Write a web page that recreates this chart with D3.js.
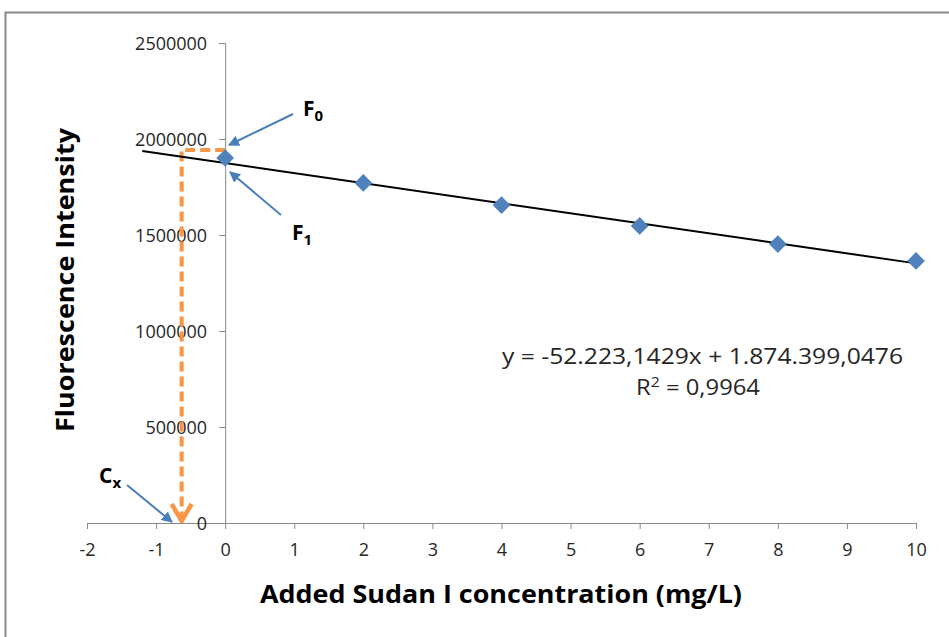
<!DOCTYPE html>
<html>
<head>
<meta charset="utf-8">
<script src="https://cdn.jsdelivr.net/npm/d3@7"></script>
<style>
body { margin: 0; background: #fff; }
text { font-family: "Open Sans", Lato, sans-serif; }
</style>
</head>
<body>
<div id="chart"></div>
<script>
var width = 949, height = 637;

// data
var concentrations = [0, 2, 4, 6, 8, 10];
var intensities = [1901000, 1771000, 1656000, 1547000, 1453000, 1365000];
var slope = -52223.1429, intercept = 1874399.0476;
var trendFrom = -1.2, trendTo = 10;
var xTicks = [-2, -1, 0, 1, 2, 3, 4, 5, 6, 7, 8, 9, 10];
var yTicks = [0, 500000, 1000000, 1500000, 2000000, 2500000];
var cx = -0.63, f0 = 1943000;

var svg = d3.select("#chart").append("svg")
	.attr("width", width).attr("height", height);

// outer frame
svg.append("rect")
	.attr("x", 5.5).attr("y", 12.5).attr("width", 960).attr("height", 660)
	.attr("fill", "none").attr("stroke", "#888").attr("stroke-width", 2);

var x = d3.scaleLinear().domain([-2, 10]).range([87, 916]);
var y = d3.scaleLinear().domain([0, 2500000]).range([523, 43]);

var defs = svg.append("defs");
defs.append("marker").attr("id", "blueHead")
	.attr("viewBox", "0 0 10 10").attr("refX", 9).attr("refY", 5)
	.attr("markerWidth", 5.5).attr("markerHeight", 5.5).attr("orient", "auto")
	.attr("markerUnits", "strokeWidth")
	.append("path").attr("d", "M0,0 L10,5 L0,10 z").attr("fill", "#4A7EBB");

// axes (plain hyphen for negatives, like the original)
var xAxis = svg.append("g").attr("transform", "translate(0," + y(0) + ")")
	.call(d3.axisBottom(x).tickValues(xTicks).tickSizeOuter(0).tickSize(6).tickPadding(14)
		.tickFormat(function(d){ return String(d); }));
var yAxis = svg.append("g").attr("transform", "translate(" + x(0) + ",0)")
	.call(d3.axisLeft(y).tickValues(yTicks).tickSizeOuter(0).tickSize(6).tickPadding(12)
		.tickFormat(function(d){ return String(d); }));

[xAxis, yAxis].forEach(function(a){
	a.select(".domain").attr("stroke", "#888");
	a.selectAll(".tick line").attr("stroke", "#888");
	a.selectAll(".tick text").attr("fill", "#262626").style("font-size", "18px");
});
yAxis.selectAll(".tick text").attr("dy", "0.36em");

// orange dashed guide
svg.append("path")
	.attr("d", "M" + x(0) + "," + y(f0) + " H" + x(cx) + " V" + (y(0) - 6))
	.attr("fill", "none").attr("stroke", "#F79646").attr("stroke-width", 4)
	.attr("stroke-dasharray", "10,5");
svg.append("path")
	.attr("d", "M" + (x(cx) - 10) + "," + (y(0) - 19) + " L" + x(cx) + "," + (y(0) - 2) + " L" + (x(cx) + 10) + "," + (y(0) - 19))
	.attr("fill", "none").attr("stroke", "#F79646").attr("stroke-width", 4.5)
	.attr("stroke-linejoin", "round");

// trend line
svg.append("line")
	.attr("x1", x(trendFrom)).attr("y1", y(slope * trendFrom + intercept))
	.attr("x2", x(trendTo)).attr("y2", y(slope * trendTo + intercept))
	.attr("stroke", "#000").attr("stroke-width", 2);

// points
svg.selectAll(".pt").data(concentrations).enter().append("path")
	.attr("class", "pt")
	.attr("d", d3.symbol().type(d3.symbolDiamond2).size(200))
	.attr("transform", function(d, i){ return "translate(" + x(d) + "," + y(intensities[i]) + ")"; })
	.attr("fill", "#4F81BD");

// blue annotation arrows
function arrow(x1, y1, x2, y2){
	svg.append("line")
		.attr("x1", x1).attr("y1", y1).attr("x2", x2).attr("y2", y2)
		.attr("stroke", "#4A7EBB").attr("stroke-width", 2)
		.attr("marker-end", "url(#blueHead)");
}
arrow(293, 114, 229, 145);
arrow(281, 215, 230, 172);
arrow(127, 485, 172, 522);

function label(px, py, main, sub){
	var t = svg.append("text").attr("x", px).attr("y", py)
		.style("font-size", "21px").style("font-weight", "bold").attr("fill", "#000");
	t.append("tspan").text(main);
	t.append("tspan").attr("dy", 5).style("font-size", "15px").text(sub);
}
label(303, 116, "F", "0");
label(292, 240, "F", "1");
label(99, 483, "C", "x");

// equation
svg.append("text").attr("x", 502).attr("y", 364)
	.attr("textLength", 401).attr("lengthAdjust", "spacingAndGlyphs")
	.style("font-size", "21px").attr("fill", "#262626")
	.text("y = -52.223,1429x + 1.874.399,0476");
var r2 = svg.append("text").attr("x", 636).attr("y", 395)
	.attr("textLength", 124).attr("lengthAdjust", "spacingAndGlyphs")
	.style("font-size", "21px").attr("fill", "#262626");
r2.append("tspan").text("R");
r2.append("tspan").attr("dy", -8).style("font-size", "14px").text("2");
r2.append("tspan").attr("dy", 8).text(" = 0,9964");

// axis titles
svg.append("text").attr("x", 260).attr("y", 603)
	.attr("textLength", 482).attr("lengthAdjust", "spacingAndGlyphs")
	.style("font-size", "25px").style("font-weight", "bold").attr("fill", "#000")
	.text("Added Sudan I concentration (mg/L)");
svg.append("text").attr("transform", "translate(74,432) rotate(-90)")
	.attr("textLength", 304).attr("lengthAdjust", "spacingAndGlyphs")
	.style("font-size", "25px").style("font-weight", "bold").attr("fill", "#000")
	.text("Fluorescence Intensity");
</script>
</body>
</html>
